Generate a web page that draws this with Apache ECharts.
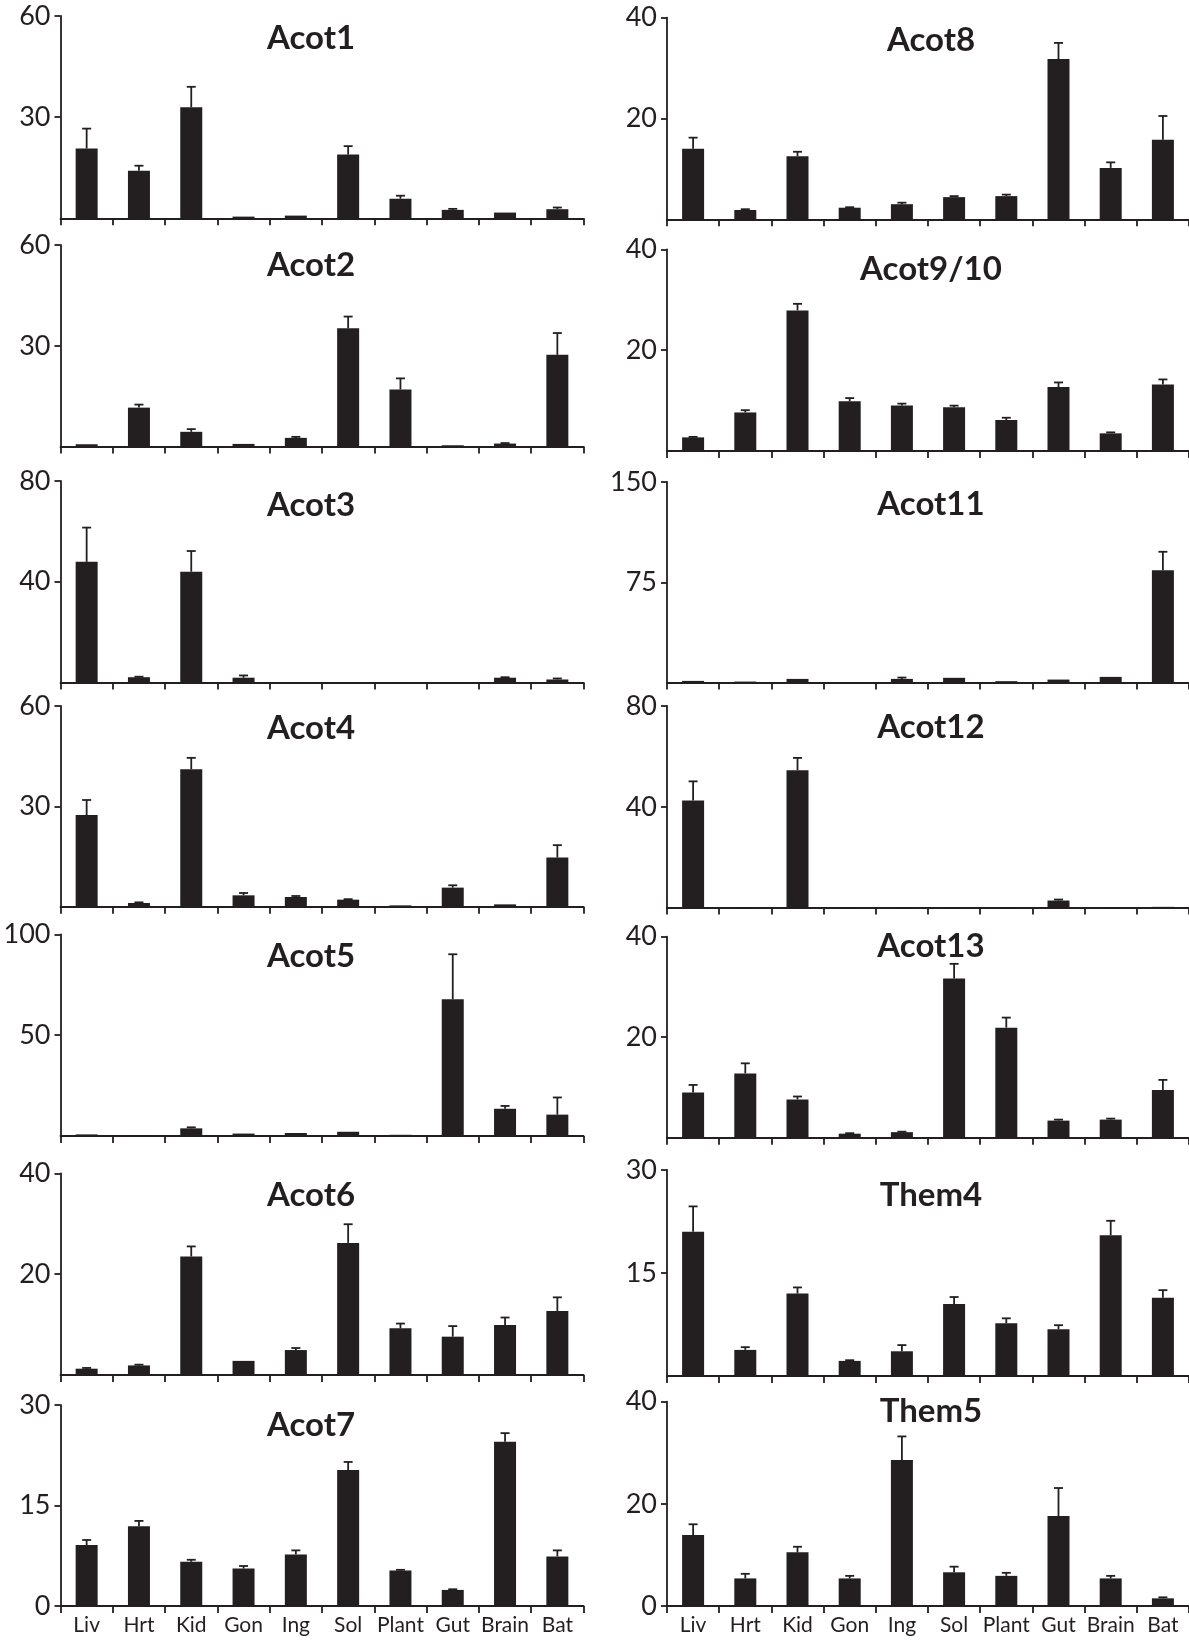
<!DOCTYPE html>
<html>
<head>
<meta charset="utf-8">
<script src="https://cdn.jsdelivr.net/npm/echarts@6/dist/echarts.min.js"></script>
<style>
html,body{margin:0;padding:0;background:#fff;}
#chart{width:1189px;height:1640px;}
</style>
</head>
<body>
<div id="chart"></div>
<script>
// ---------- data ----------
const categories = ['Liv','Hrt','Kid','Gon','Ing','Sol','Plant','Gut','Brain','Bat'];

const acot1Values = [20.7,14.1,32.9,0.5,0.8,18.9,5.8,2.5,1.7,2.7];
const acot1Errors = [5.9,1.5,6.1,0,0,2.5,0.9,0.3,0.1,0.5];
const acot2Values = [0.7,11.6,4.4,0.8,2.6,35.2,17.0,0.4,0.9,27.3];
const acot2Errors = [0.1,0.9,0.8,0.1,0.3,3.5,3.3,0.1,0.15,6.5];
const acot3Values = [47.9,2.1,44.0,1.9,0.2,0.2,0.2,0.2,1.9,1.2];
const acot3Errors = [13.6,0.2,8.2,0.9,0,0,0,0,0.2,0.4];
const acot4Values = [27.4,1.1,41.1,3.4,2.9,2.1,0.4,5.7,0.7,14.7];
const acot4Errors = [4.5,0.2,3.4,0.7,0.3,0.15,0,0.7,0.1,3.7];
const acot5Values = [0.8,0.3,3.8,1.2,1.5,2.1,0.6,67.8,13.5,10.6];
const acot5Errors = [0.1,0,0.5,0.1,0.2,0.2,0,22.3,1.4,8.5];
const acot6Values = [1.25,1.9,23.5,2.8,4.95,26.2,9.25,7.6,9.9,12.7];
const acot6Errors = [0.15,0.15,2.0,0.05,0.4,3.7,0.95,2.1,1.5,2.7];
const acot7Values = [9.1,11.9,6.6,5.6,7.7,20.3,5.3,2.4,24.5,7.4];
const acot7Errors = [0.75,0.8,0.3,0.37,0.6,1.2,0.1,0.1,1.3,0.9];
const acot8Values = [14.0,1.85,12.5,2.3,3.0,4.4,4.6,31.8,10.2,15.8];
const acot8Errors = [2.2,0.15,0.9,0.1,0.3,0.2,0.3,3.2,1.1,4.7];
const acot9Values = [2.7,7.65,27.9,9.85,9.05,8.7,6.15,12.7,3.5,13.2];
const acot9Errors = [0.1,0.45,1.3,0.65,0.35,0.3,0.45,0.9,0.2,1.0];
const acot11Values = [1.2,0.7,2.7,0.25,2.7,3.5,1.0,2.2,4.2,84];
const acot11Errors = [0,0,0.3,0,1.0,0.3,0,0.3,0.3,13.8];
const acot12Values = [42.5,0.2,54.5,0.2,0.2,0.2,0.2,2.8,0.2,0.3];
const acot12Errors = [7.6,0,4.9,0,0,0,0,0.4,0,0];
const acot13Values = [9.0,12.8,7.6,0.8,1.1,31.7,21.9,3.4,3.6,9.5];
const acot13Errors = [1.5,2.0,0.6,0.1,0.1,2.9,2.0,0.2,0.2,2.0];
const them4Values = [21.0,3.8,12.0,2.2,3.6,10.5,7.7,6.8,20.5,11.4];
const them4Errors = [3.7,0.4,0.9,0.1,0.9,1.0,0.7,0.6,2.1,1.1];
const them5Values = [13.9,5.4,10.5,5.4,28.6,6.6,5.9,17.6,5.4,1.5];
const them5Errors = [2.1,0.9,1.1,0.5,4.6,1.1,0.6,5.5,0.5,0.2];

const panelNames = ['Acot1','Acot2','Acot3','Acot4','Acot5','Acot6','Acot7',
                    'Acot8','Acot9/10','Acot11','Acot12','Acot13','Them4','Them5'];
const axisMax = [60,60,80,60,100,40,30, 40,40,150,80,40,30,40];
const panelValues = [acot1Values,acot2Values,acot3Values,acot4Values,acot5Values,acot6Values,acot7Values,
                     acot8Values,acot9Values,acot11Values,acot12Values,acot13Values,them4Values,them5Values];
const panelErrors = [acot1Errors,acot2Errors,acot3Errors,acot4Errors,acot5Errors,acot6Errors,acot7Errors,
                     acot8Errors,acot9Errors,acot11Errors,acot12Errors,acot13Errors,them4Errors,them5Errors];

// ---------- layout ----------
const colLeft = [60.5, 667];
const colWidth = [523, 525];
const gridTops = [16,245,481,706,934.3,1173.3,1405, 17.7,249.4,482,706,936.7,1170,1401.7];
const gridBottoms = [218.3,446.6,682.5,906.7,1136,1375,1606, 219.3,451,682.5,907.6,1137.7,1376,1606];
const titleX = [311, 931];
const titleY = [38,265,505.6,728,956.7,1195,1425, 40.7,269.3,504.3,727,946.7,1195,1411.7];

const INK = '#231f20';
const grids = [], xAxes = [], yAxes = [], series = [], titles = [];

for (let k = 0; k < 14; k++) {
  const col = k < 7 ? 0 : 1;
  const isBottom = (k % 7) === 6;
  grids.push({left: colLeft[col], width: colWidth[col], top: gridTops[k], height: gridBottoms[k] - gridTops[k]});
  titles.push({
    text: panelNames[k], left: titleX[col], top: titleY[k],
    textAlign: 'center', textVerticalAlign: 'middle', padding: 0,
    textStyle: {fontFamily: 'Lato', fontWeight: 'bold', fontSize: 33, color: INK}
  });
  xAxes.push({
    type: 'category', gridIndex: k, data: categories, boundaryGap: true,
    axisLine: {show: true, lineStyle: {color: INK, width: 1.8}},
    axisTick: {show: true, length: 7, interval: 0, alignWithLabel: false, lineStyle: {color: INK, width: 1.8}},
    axisLabel: {show: isBottom, interval: 0, fontFamily: 'Lato', fontSize: 21, color: INK, margin: 9},
    splitLine: {show: false}
  });
  const M = axisMax[k];
  yAxes.push({
    type: 'value', gridIndex: k, min: 0, max: M, interval: M / 2,
    axisLine: {show: true, lineStyle: {color: INK, width: 1.8}},
    axisTick: {show: true, length: 6, lineStyle: {color: INK, width: 1.8}},
    axisLabel: {fontFamily: 'Lato', fontSize: 27, color: INK, margin: 10, showMinLabel: isBottom},
    splitLine: {show: false}
  });
  series.push({
    type: 'bar', xAxisIndex: k, yAxisIndex: k, data: panelValues[k],
    barWidth: 22, itemStyle: {color: INK}, silent: true, animation: false
  });
  series.push({
    type: 'custom', xAxisIndex: k, yAxisIndex: k, z: 5, animation: false, silent: true,
    data: panelValues[k].map((v, i) => [i, v, v + panelErrors[k][i]]),
    renderItem: function (params, api) {
      const base = api.coord([api.value(0), api.value(1)]);
      const top = api.coord([api.value(0), api.value(2)]);
      if (base[1] - top[1] < 0.5) return null;
      const cap = 4.5;
      const st = {stroke: INK, lineWidth: 1.8, fill: null};
      return {
        type: 'group',
        children: [
          {type: 'line', shape: {x1: top[0], y1: base[1], x2: top[0], y2: top[1]}, style: st},
          {type: 'line', shape: {x1: top[0] - cap, y1: top[1], x2: top[0] + cap, y2: top[1]}, style: st}
        ]
      };
    },
    encode: {x: 0, y: 2}
  });
}

const chart = echarts.init(document.getElementById('chart'), null, {renderer: 'canvas'});
chart.setOption({
  animation: false,
  backgroundColor: '#ffffff',
  title: titles,
  grid: grids,
  xAxis: xAxes,
  yAxis: yAxes,
  series: series
});
</script>
</body>
</html>
